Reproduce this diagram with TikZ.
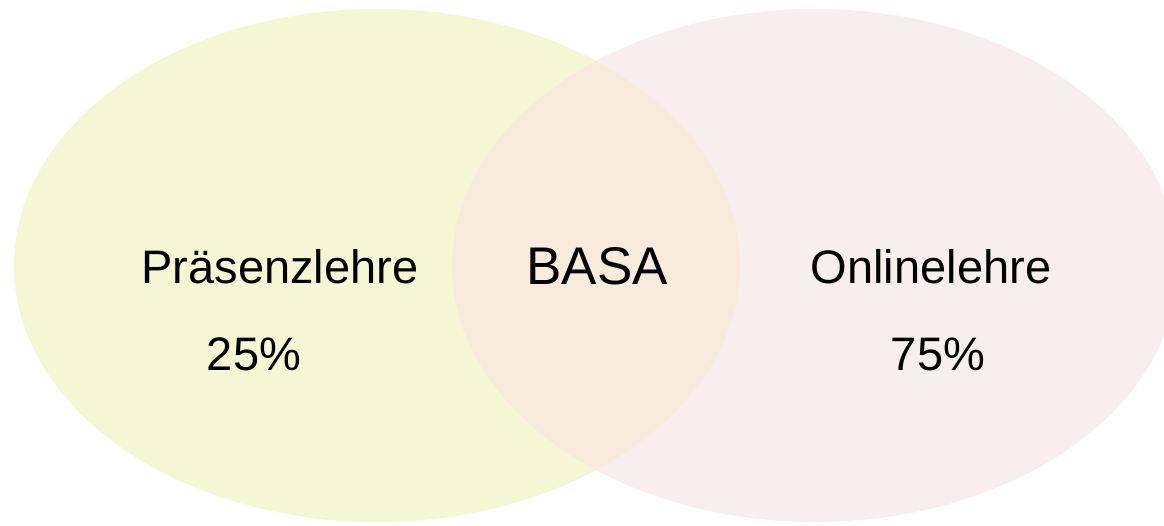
\documentclass[tikz,border=0pt]{standalone}
\usepackage{fontspec}
\setmainfont{Liberation Sans}
\definecolor{leftfill}{RGB}{245,247,212}
\definecolor{rightfill}{RGB}{249,238,238}
\definecolor{midfill}{RGB}{248,235,222}
\begin{document}
\begin{tikzpicture}[x=1pt,y=1pt,
  lbl/.style={anchor=base,font=\fontsize{47}{56}\selectfont,text=black,inner sep=0pt}]
\useasboundingbox (0,0) rectangle (1164,525);
\fill[white] (0,0) rectangle (1164,525);
\clip (0,0) rectangle (1164,525);
\fill[leftfill] (377,259.5) ellipse [x radius=363, y radius=256.5];
\fill[rightfill] (815,259.5) ellipse [x radius=363, y radius=256.5];
\begin{scope}
  \clip (377,259.5) ellipse [x radius=363, y radius=256.5];
  \fill[midfill] (815,259.5) ellipse [x radius=363, y radius=256.5];
\end{scope}
\node[lbl] (pl) at (280,241) {Präsenzlehre};
\node[lbl] (p25) at (254,154) {25\%};
\node[lbl,font=\fontsize{53}{62}\selectfont] (basa) at (597,240) {BASA};
\node[lbl] (ol) at (931,241) {Onlinelehre};
\node[lbl] (p75) at (938,154) {75\%};
\end{tikzpicture}
\end{document}
